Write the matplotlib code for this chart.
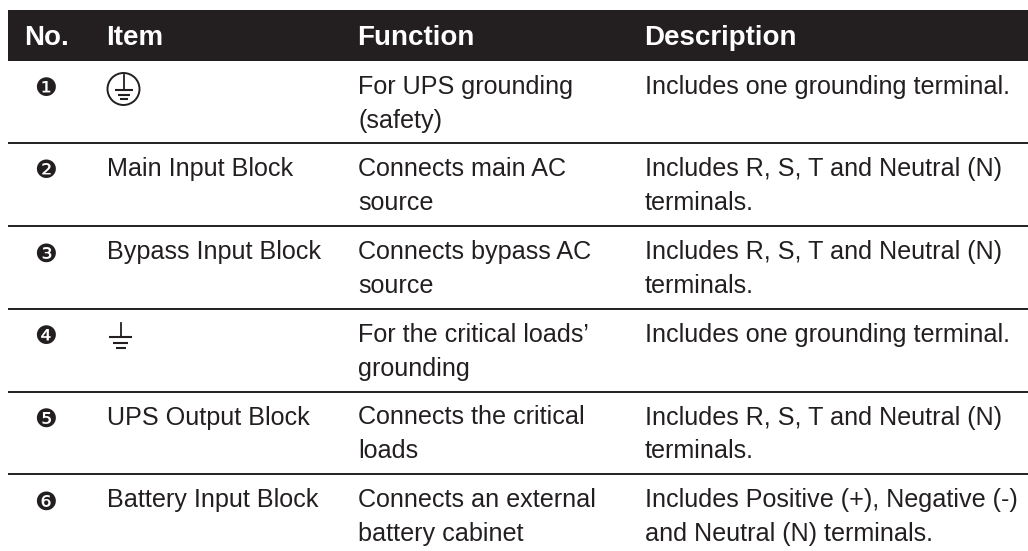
import matplotlib
matplotlib.use("Agg")
import matplotlib.pyplot as plt
from matplotlib.patches import Circle, Rectangle

# table content
headers = ["No.", "Item", "Function", "Description"]
numbers = ["\u2776", "\u2777", "\u2778", "\u2779", "\u277a", "\u277b"]
items = ["", "Main Input Block", "Bypass Input Block", "", "UPS Output Block", "Battery Input Block"]
functions = [
    "For UPS grounding\n(safety)",
    "Connects main AC\nsource",
    "Connects bypass AC\nsource",
    "For the critical loads\u2019\ngrounding",
    "Connects the critical\nloads",
    "Connects an external\nbattery cabinet",
]
descriptions = [
    "Includes one grounding terminal.",
    "Includes R, S, T and Neutral (N)\nterminals.",
    "Includes R, S, T and Neutral (N)\nterminals.",
    "Includes one grounding terminal.",
    "Includes R, S, T and Neutral (N)\nterminals.",
    "Includes Positive (+), Negative (-)\nand Neutral (N) terminals.",
]

dark = "#231f20"
font = "Liberation Sans"

fig = plt.figure(figsize=(10.28, 5.51), dpi=100)
ax = fig.add_axes([0, 0, 1, 1])
ax.set_xlim(0, 1028)
ax.set_ylim(551, 0)
ax.axis("off")

# header band
ax.add_patch(Rectangle((8, 10), 1020, 51, color=dark, lw=0))
header_x = [24, 106, 357, 644]
for x, h in zip(header_x, headers):
    ax.text(x, 45, h, color="white", fontsize=20, fontweight="bold",
            family=font, va="baseline", ha="left")

# rows
row_top = [61, 143, 226, 309, 391.5, 474]
for i in range(6):
    base = row_top[i] + 33
    ax.text(46, row_top[i] + 28.5, numbers[i], fontsize=18.3, color=dark, family="DejaVu Sans",
            ha="center", va="center")
    ax.text(107, base, items[i], fontsize=18.1, color=dark, family=font, va="baseline")
    for x, t in [(358, functions[i]), (645, descriptions[i])]:
        for k, line in enumerate(t.split("\n")):
            ax.text(x, base + k * 34, line, fontsize=18.1, color=dark, family=font,
                    va="baseline")
    if i > 0:
        ax.plot([8, 1028], [row_top[i], row_top[i]], color=dark, lw=1.4, solid_capstyle="butt")


def ground(cx, top, bars):
    # earth symbol
    ax.plot([cx, cx], [top, bars[0][0]], color=dark, lw=1.3)
    for yb, half in bars:
        ax.plot([cx - half, cx + half], [yb, yb], color=dark, lw=1.5, solid_capstyle="butt")


# protective earth, row 1
ax.add_patch(Circle((123.5, 89), 16, fill=False, ec=dark, lw=1.4))
ground(123.5, 75, [(90, 9), (94.5, 6), (98.7, 4)])
# earth, row 4
ground(120.5, 323, [(337, 11.5), (343, 7.5), (348, 5)])

fig.savefig("out.png", dpi=100)
